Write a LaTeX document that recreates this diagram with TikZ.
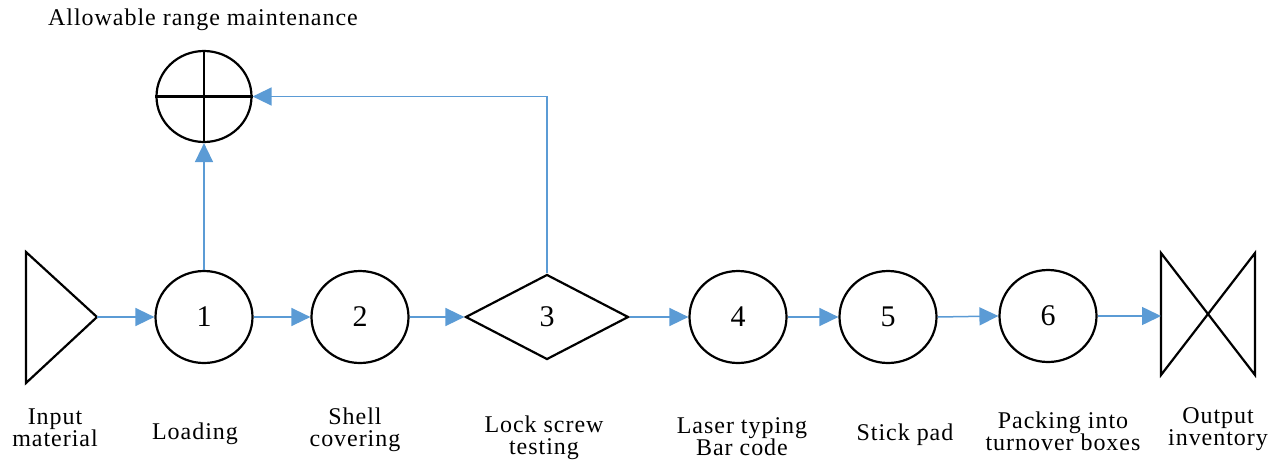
\documentclass[tikz,border=0pt]{standalone}
\usepackage{fontspec}
\setmainfont{Liberation Serif}[LetterSpace=4]
\usetikzlibrary{shapes.geometric,arrows.meta}
\definecolor{flowblue}{RGB}{91,155,213}
\begin{document}
\begin{tikzpicture}[x=1pt,y=-1pt,
  op/.style={draw=black,line width=2.2pt,ellipse,inner sep=0pt,
    minimum width=97pt,minimum height=92pt,font=\fontsize{30}{30}\selectfont},
  testbox/.style={draw=black,line width=2.2pt,diamond,inner sep=0pt,
    minimum width=163pt,minimum height=85pt,font=\fontsize{30}{30}\selectfont},
  lbl/.style={align=center,inner sep=0pt,font=\fontsize{24}{22}\selectfont},
  flow/.style={draw=flowblue,line width=1.5pt,
    -{Triangle[length=19pt,width=18pt,fill=flowblue]}},
  shapeline/.style={draw=black,line width=2.2pt,line join=miter}
]
\useasboundingbox (0,0) rectangle (1284,461);

% input store (triangle)
\draw[shapeline] (26,252) -- (97,317) -- (26,383) -- cycle;
\coordinate (in) at (97,317);

% operations
\node[op] (c1) at (204,317) {1};
\node[op] (c2) at (360,317) {2};
\node[testbox] (d3) at (547,317) {3};
\node[op] (c4) at (738,317) {4};
\node[op] (c5) at (888,317) {5};
\node[op] (c6) at (1048,316) {6};

% output store (bow-tie)
\draw[shapeline] (1161,253) -- (1255,375) -- (1255,253) -- (1161,375) -- cycle;
\coordinate (out) at (1161,316);

% range maintenance symbol
\node[draw=black,line width=2.2pt,ellipse,inner sep=0pt,
  minimum width=95pt,minimum height=91pt] (chk) at (204,96.5) {};
\draw[line width=2.2pt] (chk.north) -- (chk.south) (chk.west) -- (chk.east);
\node[lbl] (chkl) at (203,20) {Allowable range maintenance};

% flow connectors
\draw[flow] (in) -- (c1.west);
\draw[flow] (c1.east) -- (c2.west);
\draw[flow] (c2.east) -- (d3.west);
\draw[flow] (d3.east) -- (c4.west);
\draw[flow] (c4.east) -- (c5.west);
\draw[flow] (c5.east) -- (c6.west);
\draw[flow] (c6.east) -- (out);
\draw[flow] (c1.north) -- (chk.south);
\draw[flow] (d3.north) |- (chk.east);

% step labels
\node[lbl] (l0) at (55,428) {Input\\material};
\node[lbl] (l1) at (195,434) {Loading};
\node[lbl] (l2) at (355,430) {Shell\\covering};
\node[lbl] (l3) at (544,438) {Lock screw\\testing};
\node[lbl] (l4) at (742,437) {Laser typing\\Bar code};
\node[lbl] (l5) at (905,435) {Stick pad};
\node[lbl] (l6) at (1063,431) {Packing into\\turnover boxes};
\node[lbl] (l7) at (1218,429) {Output\\inventory};
\end{tikzpicture}
\end{document}
